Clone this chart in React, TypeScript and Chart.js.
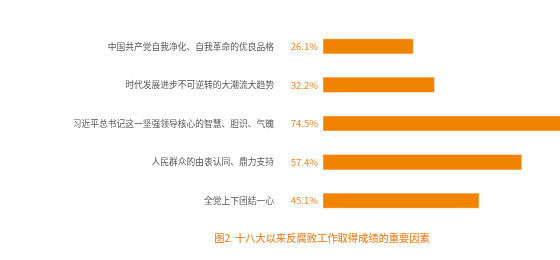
import React, { useEffect, useRef } from "react";
import { Chart, registerables } from "chart.js";

Chart.register(...registerables);

const categories = [
  "中国共产党自我净化、自我革命的优良品格",
  "时代发展进步不可逆转的大潮流大趋势",
  "习近平总书记这一坚强领导核心的智慧、胆识、气魄",
  "人民群众的由衷认同、鼎力支持",
  "全党上下团结一心",
];
const values = [26.1, 32.2, 74.5, 57.4, 45.1];
const valueLabels = ["26.1%", "32.2%", "74.5%", "57.4%", "45.1%"];
const title = "图2  十八大以来反腐败工作取得成绩的重要因素";

const FONT = '"Noto Sans CJK SC", "Noto Sans", sans-serif';

const labelPlugin = {
  id: "labelPlugin",
  afterDraw(chart: any) {
    const ctx = chart.ctx;
    const y = chart.scales.y;
    const left = chart.chartArea.left;
    ctx.save();
    ctx.textBaseline = "middle";
    ctx.textAlign = "right";
    categories.forEach((c, i) => {
      const py = y.getPixelForValue(i);
      ctx.font = `8.75px ${FONT}`;
      ctx.fillStyle = "#555555";
      ctx.fillText(c, left - 49, py);
      ctx.font = `9.5px ${FONT}`;
      ctx.fillStyle = "#f0862a";
      ctx.fillText(valueLabels[i], left - 5, py);
    });
    ctx.textAlign = "center";
    ctx.font = `500 10.25px ${FONT}`;
    ctx.fillStyle = "#f08a30";
    ctx.fillText(title, 322, 238);
    ctx.restore();
  },
};

export default function App() {
  const ref = useRef<HTMLCanvasElement>(null);
  useEffect(() => {
    if (!ref.current) return;
    const chart = new Chart(ref.current, {
      type: "bar",
      data: {
        labels: categories,
        datasets: [
          {
            data: values,
            backgroundColor: "#f08300",
            borderColor: "#f7b77a",
            borderWidth: 0.8,
            borderSkipped: false,
            barThickness: 15,
          },
        ],
      },
      options: {
        indexAxis: "y",
        animation: false,
        responsive: false,
        maintainAspectRatio: false,
        layout: { padding: { left: 323, right: 0, top: 27, bottom: 40 } },
        plugins: { legend: { display: false }, tooltip: { enabled: false }, title: { display: false } },
        scales: {
          x: { display: false, min: 0, max: 68.5 },
          y: { display: false },
        },
      },
      plugins: [labelPlugin],
    });
    return () => chart.destroy();
  }, []);
  return (
    <div style={{ position: "absolute", left: 0, top: 0, width: 560, height: 260, background: "#fff" }}>
      <canvas ref={ref} width={560} height={260} style={{ width: 560, height: 260 }} />
    </div>
  );
}
